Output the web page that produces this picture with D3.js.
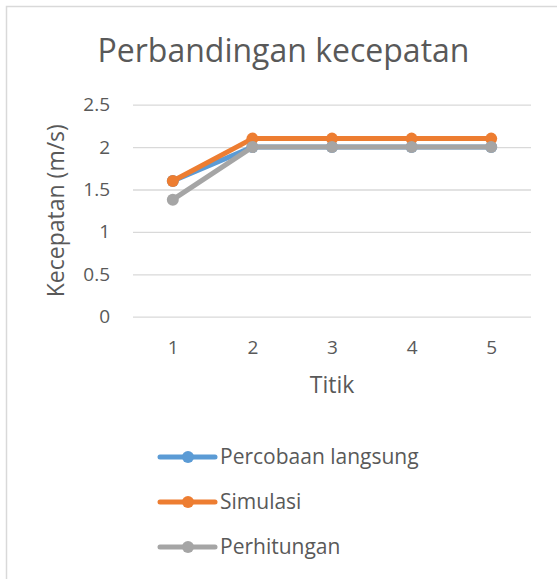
<!DOCTYPE html>
<html>
<head>
<meta charset="utf-8">
<script src="https://cdn.jsdelivr.net/npm/d3@7"></script>
<style>
  body { margin: 0; background: #fff; }
  text { font-family: "Open Sans", "Noto Sans", sans-serif; fill: #595959; }
</style>
</head>
<body>
<svg id="chart" width="557" height="579"></svg>
<script>
// data
const categories = ['1', '2', '3', '4', '5']
const percobaan = [1.6, 2.0, 2.0, 2.0, 2.0]
const simulasi = [1.6, 2.1, 2.1, 2.1, 2.1]
const perhitungan = [1.38, 2.0, 2.0, 2.0, 2.0]
const yTicks = [0, 0.5, 1, 1.5, 2, 2.5]

const series = [
  { name: 'Percobaan langsung', values: percobaan, color: '#5B9BD5' },
  { name: 'Simulasi', values: simulasi, color: '#ED7D31' },
  { name: 'Perhitungan', values: perhitungan, color: '#A5A5A5' }
]

const svg = d3.select('#chart')

// border
svg.append('rect')
  .attr('x', 6.5).attr('y', 6.5)
  .attr('width', 600).attr('height', 600)
  .style('fill', '#fff')
  .style('stroke', '#D9D9D9')
  .style('stroke-width', 1.5)

const plot = { left: 133, right: 531, top: 104.7, bottom: 316.7 }

const x = d3.scalePoint()
  .domain(categories)
  .range([plot.left, plot.right])
  .padding(0.5)

const y = d3.scaleLinear()
  .domain([0, 2.5])
  .range([plot.bottom, plot.top])

// title
svg.append('text')
  .attr('x', 283.5).attr('y', 62)
  .attr('text-anchor', 'middle')
  .style('font-size', '32px')
  .text('Perbandingan kecepatan')

// gridlines + y labels
const yAxis = d3.axisLeft(y)
  .tickValues(yTicks)
  .tickSize(-(plot.right - plot.left))
  .tickPadding(23)
  .tickFormat(d => d)

const gy = svg.append('g')
  .attr('transform', `translate(${plot.left},0)`)
  .call(yAxis)
gy.select('.domain').remove()
gy.selectAll('.tick line').style('stroke', '#D9D9D9').style('stroke-width', 1.3)
gy.selectAll('.tick text').style('font-size', '19px').style('fill', '#595959')
  .style('font-family', '"Open Sans", sans-serif')

const xAxis = d3.axisBottom(x).tickSize(0).tickPadding(24)
const gx = svg.append('g')
  .attr('transform', `translate(0,${plot.bottom})`)
  .call(xAxis)
gx.select('.domain').remove()
gx.selectAll('.tick text').style('font-size', '19px').style('fill', '#595959')
  .style('font-family', '"Open Sans", sans-serif')

// axis titles
svg.append('text')
  .attr('transform', `translate(64,${(plot.top + plot.bottom) / 2}) rotate(-90)`)
  .attr('text-anchor', 'middle')
  .style('font-size', '23px')
  .text('Kecepatan (m/s)')

svg.append('text')
  .attr('x', (plot.left + plot.right) / 2).attr('y', 393)
  .attr('text-anchor', 'middle')
  .style('font-size', '23px')
  .text('Titik')

// lines
const line = d3.line()
  .x((d, i) => x(categories[i]))
  .y(d => y(d))

series.forEach(s => {
  const g = svg.append('g')
  g.append('path')
    .datum(s.values)
    .attr('d', line)
    .style('fill', 'none')
    .style('stroke', s.color)
    .style('stroke-width', 5)
    .style('stroke-linejoin', 'round')
  g.selectAll('circle')
    .data(s.values)
    .enter()
    .append('circle')
    .attr('cx', (d, i) => x(categories[i]))
    .attr('cy', d => y(d))
    .attr('r', 6)
    .style('fill', s.color)
})

// legend
const legend = svg.append('g')
  .selectAll('g')
  .data(series)
  .enter()
  .append('g')
  .attr('transform', (d, i) => `translate(160,${457 + i * 45})`)

legend.append('line')
  .attr('x1', 0).attr('x2', 55)
  .style('stroke', d => d.color)
  .style('stroke-width', 5)
  .style('stroke-linecap', 'round')
legend.append('circle')
  .attr('cx', 28).attr('r', 6)
  .style('fill', d => d.color)
legend.append('text')
  .attr('x', 60)
  .attr('dy', '0.35em')
  .style('font-size', '21px')
  .text(d => d.name)
</script>
</body>
</html>
